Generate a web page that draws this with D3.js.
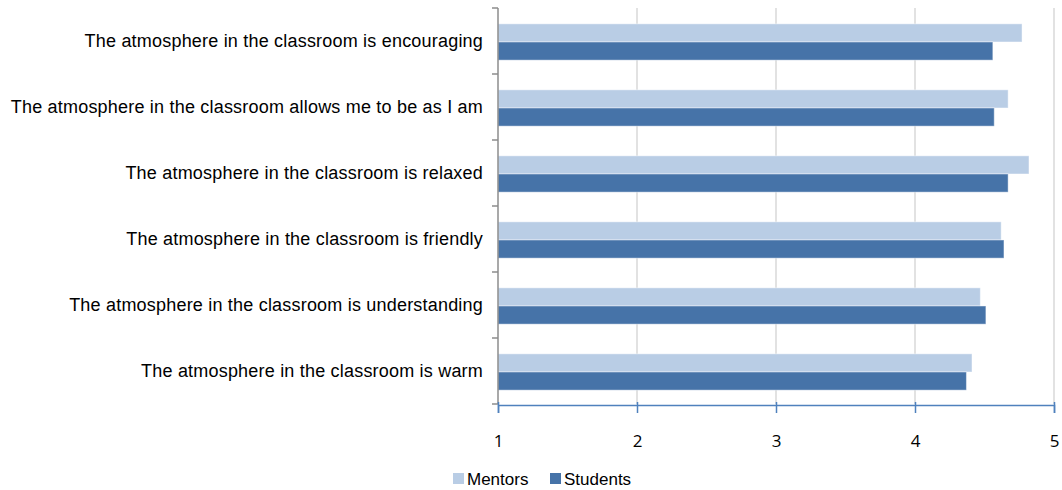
<!DOCTYPE html>
<html>
<head>
<meta charset="utf-8">
<script src="https://cdn.jsdelivr.net/npm/d3@7"></script>
<style>
  body { margin: 0; background: #fff; }
  svg { display: block; }
</style>
</head>
<body>
<svg id="chart"></svg>
<script>
const categories = [
  "The atmosphere in the classroom is encouraging",
  "The atmosphere in the classroom allows me to be as I am",
  "The atmosphere in the classroom is relaxed",
  "The atmosphere in the classroom is friendly",
  "The atmosphere in the classroom is understanding",
  "The atmosphere in the classroom is warm"
];
const seriesNames = ["Mentors", "Students"];
const mentors = [4.77, 4.67, 4.82, 4.62, 4.47, 4.41];
const students = [4.56, 4.57, 4.67, 4.64, 4.51, 4.37];
const xTicks = [1, 2, 3, 4, 5];

const colors = { Mentors: "#b9cde5", Students: "#4673a8" };

const width = 1062, height = 490;
const margin = { top: 8, right: 8, bottom: 86, left: 498 };

const svg = d3.select("#chart")
  .attr("width", width)
  .attr("height", height);

// scales
const x = d3.scaleLinear()
  .domain([1, 5])
  .range([margin.left, width - margin.right]);

const y = d3.scaleBand()
  .domain(categories)
  .range([margin.top, height - margin.bottom])
  .padding(0);

const ySub = d3.scaleBand()
  .domain(seriesNames)
  .range([y.bandwidth() * 0.24, y.bandwidth() * 0.79]);

const plotBottom = height - margin.bottom;

// gridlines
svg.append("g")
  .selectAll("line")
  .data(xTicks.slice(1))
  .join("line")
  .attr("x1", d => x(d)).attr("x2", d => x(d))
  .attr("y1", margin.top).attr("y2", plotBottom)
  .attr("stroke", "#d9d9d9")
  .attr("stroke-width", 1.5);

// bars
const rows = categories.map((c, i) => ({ cat: c, Mentors: mentors[i], Students: students[i] }));

const groups = svg.append("g")
  .selectAll("g")
  .data(rows)
  .join("g")
  .attr("transform", d => `translate(0,${y(d.cat)})`);

groups.selectAll("rect")
  .data(d => seriesNames.map(s => ({ key: s, value: d[s] })))
  .join("rect")
  .attr("x", x(1))
  .attr("y", d => ySub(d.key))
  .attr("width", d => x(d.value) - x(1))
  .attr("height", ySub.bandwidth())
  .attr("fill", d => colors[d.key])
  .attr("stroke", "rgba(255,255,255,0.45)")
  .attr("stroke-width", 1);

// y axis (gray) with boundary ticks
const yAxisG = svg.append("g");
yAxisG.append("line")
  .attr("x1", x(1)).attr("x2", x(1))
  .attr("y1", margin.top).attr("y2", plotBottom)
  .attr("stroke", "#8c8c8c").attr("stroke-width", 1.5);
const bounds = categories.map(c => y(c)).concat([plotBottom]);
yAxisG.selectAll(".yt")
  .data(bounds)
  .join("line")
  .attr("x1", x(1) - 6).attr("x2", x(1))
  .attr("y1", d => d).attr("y2", d => d)
  .attr("stroke", "#8c8c8c").attr("stroke-width", 1.5);

// category labels
svg.append("g")
  .selectAll("text")
  .data(categories)
  .join("text")
  .attr("x", x(1) - 15)
  .attr("y", d => y(d) + y.bandwidth() / 2)
  .attr("dy", "0.35em")
  .attr("text-anchor", "end")
  .attr("font-family", "Liberation Sans, Arial, sans-serif")
  .attr("font-size", 18)
  .attr("letter-spacing", 0.2)
  .attr("fill", "#000")
  .text(d => d);

// x axis (blue)
const xAxis = d3.axisBottom(x)
  .tickValues(xTicks)
  .tickFormat(d3.format("d"))
  .tickSize(8)
  .tickPadding(22);

const xAxisG = svg.append("g")
  .attr("transform", `translate(0,${plotBottom + 1})`)
  .call(xAxis);
xAxisG.select(".domain").attr("stroke", "#4f81bd").attr("stroke-width", 1.5);
xAxisG.selectAll(".tick line").attr("stroke", "#4f81bd").attr("stroke-width", 1.5)
  .attr("y1", -3);
xAxisG.selectAll(".tick text")
  .attr("font-family", "Open Sans, sans-serif")
  .attr("font-size", 17)
  .attr("fill", "#000");

// legend
const legend = svg.append("g").attr("transform", "translate(453,485)");
const legendX = [0, 97];
seriesNames.forEach((s, i) => {
  const g = legend.append("g").attr("transform", `translate(${legendX[i]},0)`);
  g.append("rect")
    .attr("x", 0).attr("y", -12)
    .attr("width", 11).attr("height", 11)
    .attr("fill", colors[s]);
  g.append("text")
    .attr("x", 14).attr("y", 0)
    .attr("font-family", "Liberation Sans, Arial, sans-serif")
    .attr("font-size", 17)
    .attr("fill", "#000")
    .text(s);
});
</script>
</body>
</html>
